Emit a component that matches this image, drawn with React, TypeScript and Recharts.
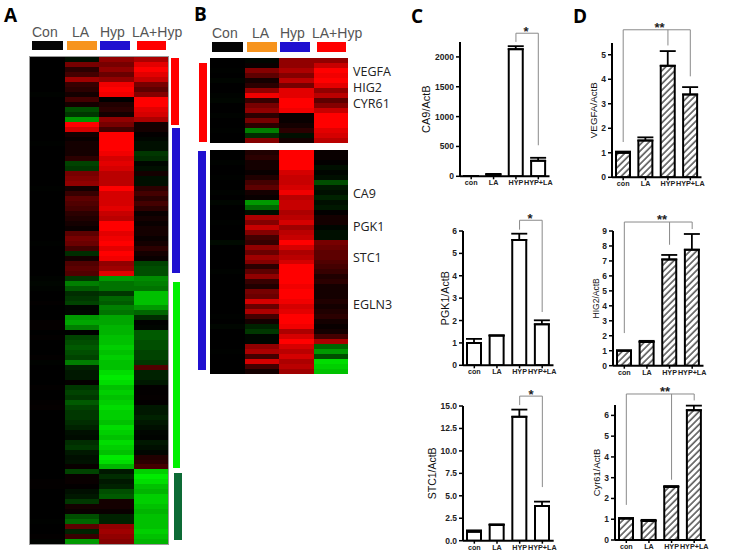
import React from "react";
import { BarChart, Bar, XAxis, YAxis, Cell, ErrorBar, ReferenceLine } from "recharts";

// ---------- heatmap values (log-ratio style: negative = green, positive = red) ----------
const aCon = [0,0,0,0,0,0,0,-.03,0,0,0,0,0,0,0,0,0,-.02,0,0,0,0,0,0,0,0,-.02,0,0,0,0,0,0,0,0,0,0,-.02,0,0,0,0,0,0,-.03,-.05,-.03,0,0,.02,0,0,0,.03,.03,0,.02,0,0,0,.02,-.03,0,0,0,0,.02,0,0,.02,.03,0,0,0,0,0,0,0,0,0,0,0,0,0,0,.02,.02,0,0,0,0,0,0,-.02,0,0,.02,-.03];
const aLa = [-.1,.5,.2,.3,.65,.25,.2,.1,.3,.1,-.4,-.3,-.7,1,.85,.1,.05,.1,.1,.1,.2,-.35,-.3,.5,.55,.6,.1,.25,.4,.35,.3,.2,.15,.1,.05,.4,.5,.45,.3,-.25,.1,.35,.4,.35,-.3,-.6,-.45,-.25,-.3,-.35,-.05,-.05,-.7,-.75,-.6,0,-.35,-.4,-.45,-.4,-.35,-.6,-.2,-.15,-.15,.03,-.3,-.35,-.3,-.45,-.35,-.3,-.3,-.25,-.2,-.1,-.08,-.25,-.3,-.15,-.1,-.12,.05,-.35,.05,.05,.02,-.1,-.15,-.3,.1,.05,-.4,-.5,.4,-.2,.25,-.7];
const aHyp = [.6,.5,.6,.45,.6,.95,1,.95,0,.15,.2,.1,.6,.5,.3,1,1,1,1,.95,.85,.9,.85,.75,.75,.75,1,.85,.85,.85,.9,.8,.75,1,1,.9,.95,1,.9,1,.95,.6,.65,.9,-.7,-.55,-.55,-.3,-.5,-.45,-.6,-.55,-.75,-.75,-.8,-.8,-.85,-.85,-.9,-.85,-.9,-.85,-.85,-.95,-1,-.95,-.85,-.9,-.85,-.9,-.95,-.9,-.9,-.85,-.95,-.9,-.85,-.95,-.9,-.85,-1,-.95,-.8,-.15,-.25,-.15,-.2,-.4,-.45,.1,.1,.05,-.2,-.2,.6,.65,.6,.55];
const aLh = [.7,.9,1,.9,.8,.5,.4,.55,1,1,.9,.85,.7,.1,.1,.02,-.05,-.1,-.1,-.3,-.25,-.05,-.1,.1,-.1,-.1,.2,.3,.2,.3,.2,.05,.1,.05,.1,.1,.05,.1,.2,.1,.05,-.35,-.4,-.4,-.65,-.6,-.55,-.85,-.85,-.85,-.7,-.5,-.25,-.02,-.05,-.45,-.45,-.4,-.4,-.35,-.35,-.3,.35,-.2,-.2,-.15,.02,.02,.03,.02,-.15,-.15,-.2,-.15,-.1,-.05,-.03,-.15,-.1,-.05,.15,.2,.3,-.9,-1,-.95,-.85,-.8,-.9,-.9,-.85,-.8,-.85,-.85,-.85,-.9,-.85,-.8];

const bTopCon = [0,0,-.02,0,-.04,0,0,-.03,-.05,0,0,-.03,0,0,-.02,0,0];
const bTopLa = [-.05,.05,.55,.4,.1,.2,.6,.95,.25,.5,.6,.2,.5,.2,-.6,-.25,.55];
const bTopHyp = [.6,.6,.7,.55,.75,.5,.9,.9,1,1,.95,.05,.05,.1,.2,-.1,.1];
const bTopLh = [.6,.8,1,.95,1,.9,.6,.75,.4,.55,.8,1,1,1,.9,.85,.75];

const bLowCon = [0,0,-.03,0,0,-.02,0,0,-.03,0,-.05,0,0,0,-.02,0,0,0,-.07,0,0,0,0,0,-.03,0,0,0,0,0,0,0,0,-.02,0,-.05,0,0,0,0,-.02,0,0,0,0];
const bLowLa = [.15,.2,.1,.1,.05,.15,.3,.4,.1,.05,-.7,-.5,-.1,.7,.55,.8,.55,.3,.25,.6,.45,.65,.55,.2,.4,.6,.25,.15,.5,.45,.85,.45,.7,.3,.1,-.2,-.3,-.05,-.05,.6,.7,.3,.85,.3,.1];
const bLowHyp = [1,1,1,1,.85,.8,.8,.85,.95,.75,.8,.8,.7,.75,.85,.65,.75,.8,1,.85,.7,.75,.85,1,1,1,1,.95,1,1,.95,.85,.9,1,1,.95,.7,.85,1,.85,.75,.85,.7,.75,.65];
const bLowLh = [.05,.05,.02,-.1,-.05,-.1,-.4,-.15,-.1,-.2,-.1,-.15,.02,.1,.1,-.05,-.1,-.1,.5,.45,.4,.4,.35,.3,.25,.15,.2,.1,.1,.1,.15,.1,.15,.2,.1,.05,.1,.3,.7,-.5,-.7,-.4,-.95,-.9,-.85];

// ---------- bar chart values ----------
const groups = ["con", "LA", "HYP", "HYP+LA"];
const ca9Vals = [5, 30, 2130, 260];
const ca9Errs = [2, 10, 50, 50];
const pgk1Vals = [1.0, 1.33, 5.6, 1.83];
const pgk1Errs = [0.18, 0, 0.28, 0.18];
const stc1Vals = [1.0, 1.75, 13.8, 3.85];
const stc1Errs = [0.15, 0.08, 0.8, 0.5];
const vegfaVals = [1.0, 1.5, 4.55, 3.38];
const vegfaErrs = [0.05, 0.13, 0.6, 0.3];
const hig2Vals = [1.0, 1.58, 7.1, 7.75];
const hig2Errs = [0.03, 0.08, 0.3, 1.05];
const cyr61Vals = [1.03, 0.92, 2.55, 6.25];
const cyr61Errs = [0.03, 0.05, 0.05, 0.22];

const ca9Ticks = [0, 500, 1000, 1500, 2000];
const pgk1Ticks = [0, 1, 2, 3, 4, 5, 6];
const stc1Ticks = ["0.0", "2.5", "5.0", "7.5", "10.0", "12.5", "15.0"].map(Number);
const vegfaTicks = [0, 1, 2, 3, 4, 5];
const hig2Ticks = [0, 1, 2, 3, 4, 5, 6, 7, 8, 9];
const cyr61Ticks = [0, 1, 2, 3, 4, 5, 6];

const AXIS_W = 50;
const TOP_PAD = 30;
const BOTTOM_PAD = 24;
const SANS = "'Liberation Sans', Arial, sans-serif";

function heatColor(v: number) {
  const a = Math.min(1, Math.abs(v));
  return v >= 0 ? `rgb(${Math.round(Math.pow(a, 1.1) * 255)},0,0)` : `rgb(0,${Math.round(Math.pow(a, 1.2) * 235)},0)`;
}

function Heatmap({ cols, left, top, width, height, edge }: any) {
  const data = cols[0].map((_: number, i: number) => ({
    row: i, u0: 1, u1: 1, u2: 1, u3: 1,
  }));
  return (
    <div style={{ position: "absolute", left, top, width, height, background: "#000", filter: "blur(0.45px)", outline: edge ? "1px solid #9a9a9a" : undefined }}>
      <BarChart layout="vertical" width={width} height={height} data={data} margin={{ top: 0, right: 0, bottom: 0, left: 0 }} barCategoryGap={0} barGap={0}>
        <XAxis type="number" domain={[0, 4]} hide />
        <YAxis type="category" dataKey="row" hide />
        {cols.map((col: number[], c: number) => (
          <Bar key={c} dataKey={`u${c}`} stackId="h" isAnimationActive={false} shapeRendering="crispEdges">
            {col.map((v, i) => <Cell key={i} fill={heatColor(v)} />)}
          </Bar>
        ))}
      </BarChart>
    </div>
  );
}

function Assay({ name, vals, errs, ticks, max, axisX, yTop, y0, plotW, labelX, labelSize, hatched, brackets, tickFormatter }: any) {
  const plotH = y0 - yTop;
  const data = groups.map((g, i) => ({ g, v: vals[i], e: [0, errs[i]] }));
  const pid = `hatch-${name.replace("/", "-")}`;
  const seg = (x1: string, y1: number, x2: string, y2: number, k: string) => (
    <ReferenceLine key={k} ifOverflow="visible" stroke="#8a8a8a" strokeWidth={1}
      segment={[{ x: x1, y: y1 }, { x: x2, y: y2 }]} />
  );
  return (
    <div style={{ position: "absolute", left: axisX - AXIS_W, top: yTop - TOP_PAD }}>
      <BarChart width={AXIS_W + plotW + 6} height={TOP_PAD + plotH + BOTTOM_PAD} data={data}
        margin={{ top: TOP_PAD, right: 6, bottom: 0, left: 0 }} barSize={14}>
        <defs>
          <pattern id={pid} width={4.6} height={4.6} patternUnits="userSpaceOnUse" patternTransform="rotate(45)">
            <rect width={4.6} height={4.6} fill="#fff" />
            <line x1={1} y1={0} x2={1} y2={4.6} stroke="#2a2a2a" strokeWidth={1.25} />
          </pattern>
        </defs>
        <XAxis dataKey="g" height={BOTTOM_PAD} interval={0} tickSize={3} tickMargin={1}
          axisLine={{ stroke: "#000", strokeWidth: 2 }} tickLine={{ stroke: "#000", strokeWidth: 1.5 }}
          tick={{ fontSize: 7.2, fontWeight: 700, fill: "#222", fontFamily: SANS }} />
        <YAxis width={AXIS_W} domain={[0, max]} ticks={ticks} interval={0} tickSize={4} tickMargin={2} allowDataOverflow
          tickFormatter={tickFormatter}
          axisLine={{ stroke: "#000", strokeWidth: 2 }} tickLine={{ stroke: "#000", strokeWidth: 1.5 }}
          tick={{ fontSize: 8.5, fontWeight: 700, fill: "#222", fontFamily: SANS }}
          label={{ value: name, angle: -90, position: "center", dx: labelX - axisX + AXIS_W / 2, style: { fontSize: labelSize, fill: "#111", fontFamily: SANS, textAnchor: "middle" } }} />
        <Bar dataKey="v" isAnimationActive={false} fill={hatched ? `url(#${pid})` : "#fff"} stroke="#000" strokeWidth={2}>
          <ErrorBar dataKey="e" direction="y" width={8} stroke="#000" strokeWidth={1.8} isAnimationActive={false} />
        </Bar>
        {brackets.map((b: any, i: number) => seg(b[0], b[1], b[2], b[3], `b${i}`))}
      </BarChart>
    </div>
  );
}

function Txt({ x, y, size, color, weight, family, children }: any) {
  return (
    <div style={{ position: "absolute", left: x, top: y, transform: "translateY(-50%)", fontSize: size, color: color || "#222", fontWeight: weight || 400, fontFamily: family || "'Open Sans', sans-serif", whiteSpace: "nowrap", lineHeight: 1 }}>
      {children}
    </div>
  );
}

function Block({ x, y, w, h, c }: any) {
  return <div style={{ position: "absolute", left: x, top: y, width: w, height: h, background: c }} />;
}

const BLACK = "#050505", ORANGE = "#f7941d", BLUE = "#2010d0", RED = "#ff0000";
const oneDecimal = (v: number) => v.toFixed(1);

export default function App() {
  return (
    <div style={{ position: "absolute", left: 0, top: 0, width: 729, height: 560, background: "#fff", overflow: "hidden" }}>
      <Txt x={4} y={15} size={19} weight={700} color="#000">A</Txt>
      <Txt x={194} y={14} size={19} weight={700} color="#000">B</Txt>
      <Txt x={411} y={16} size={19} weight={700} color="#000">C</Txt>
      <Txt x={573} y={16} size={19} weight={700} color="#000">D</Txt>

      <Txt x={32} y={32} size={14} color="#555" family={SANS}>Con</Txt>
      <Txt x={72} y={32} size={14} color="#555" family={SANS}>LA</Txt>
      <Txt x={100} y={32} size={14} color="#555" family={SANS}>Hyp</Txt>
      <Txt x={132} y={32} size={14} color="#555" family={SANS}>LA+Hyp</Txt>
      <Block x={32} y={41} w={31} h={9} c={BLACK} />
      <Block x={67} y={41} w={30} h={9} c={ORANGE} />
      <Block x={100} y={41} w={30} h={9} c={BLUE} />
      <Block x={137} y={41} w={29} h={9} c={RED} />

      <Heatmap cols={[aCon, aLa, aHyp, aLh]} left={30} top={57} width={138} height={487} edge />
      <Block x={171} y={58} w={8} h={67} c={RED} />
      <Block x={172} y={128} w={8} h={145} c={BLUE} />
      <Block x={173} y={282} w={7} h={186} c="#00f000" />
      <Block x={174} y={473} w={7.5} h={67} c="#0d6b35" />

      <Txt x={212} y={33} size={14} color="#555" family={SANS}>Con</Txt>
      <Txt x={252} y={33} size={14} color="#555" family={SANS}>LA</Txt>
      <Txt x={280} y={33} size={14} color="#555" family={SANS}>Hyp</Txt>
      <Txt x={312} y={33} size={14} color="#555" family={SANS}>LA+Hyp</Txt>
      <Block x={212} y={42} w={31} h={10} c={BLACK} />
      <Block x={247} y={42} w={30} h={10} c={ORANGE} />
      <Block x={280} y={42} w={30} h={10} c={BLUE} />
      <Block x={317} y={42} w={29} h={10} c={RED} />

      <Heatmap cols={[bTopCon, bTopLa, bTopHyp, bTopLh]} left={210} top={58} width={138} height={85} />
      <Heatmap cols={[bLowCon, bLowLa, bLowHyp, bLowLh]} left={210} top={150} width={138} height={224} />
      <Block x={199} y={63} w={8} h={79} c={RED} />
      <Block x={198} y={151} w={8} h={219} c={BLUE} />

      <Txt x={353} y={72} size={12.5}>VEGFA</Txt>
      <Txt x={353} y={88} size={12.5}>HIG2</Txt>
      <Txt x={353} y={104} size={12.5}>CYR61</Txt>
      <Txt x={353} y={194} size={12.5}>CA9</Txt>
      <Txt x={353} y={227} size={12.5}>PGK1</Txt>
      <Txt x={353} y={258} size={12.5}>STC1</Txt>
      <Txt x={353} y={305} size={12.5}>EGLN3</Txt>

      <Assay name="CA9/ActB" vals={ca9Vals} errs={ca9Errs} ticks={ca9Ticks} max={2250} axisX={459.5} yTop={41.7} y0={176} plotW={89.5} labelX={426} labelSize={11}
        brackets={[["HYP", 2251, "HYP", 2397], ["HYP", 2397, "HYP+LA", 2397], ["HYP+LA", 2397, "HYP+LA", 520]]} />
      <Assay name="PGK1/ActB" vals={pgk1Vals} errs={pgk1Errs} ticks={pgk1Ticks} max={6} axisX={462.7} yTop={230.7} y0={365} plotW={90.5} labelX={445} labelSize={10.7}
        brackets={[["HYP", 6.06, "HYP", 6.48], ["HYP", 6.48, "HYP+LA", 6.48], ["HYP+LA", 6.48, "HYP+LA", 2.38]]} />
      <Assay name="STC1/ActB" vals={stc1Vals} errs={stc1Errs} ticks={stc1Ticks} max={15} axisX={463.3} yTop={406} y0={540.7} plotW={90.7} labelX={433} labelSize={10.5} tickFormatter={oneDecimal}
        brackets={[["HYP", 15.1, "HYP", 16.1], ["HYP", 16.1, "HYP+LA", 16.1], ["HYP+LA", 16.1, "HYP+LA", 5.97]]} />
      <Assay name="VEGFA/ActB" hatched vals={vegfaVals} errs={vegfaErrs} ticks={vegfaTicks} max={5.48} axisX={611.7} yTop={42.7} y0={177} plotW={89.5} labelX={593} labelSize={9.8}
        brackets={[["con", 1.44, "con", 6.02], ["con", 6.02, "HYP+LA", 6.02], ["HYP", 6.02, "HYP", 5.38], ["HYP+LA", 6.02, "HYP+LA", 4.12]]} />
      <Assay name="HIG2/ActB" hatched vals={hig2Vals} errs={hig2Errs} ticks={hig2Ticks} max={9} axisX={613.3} yTop={231.3} y0={366} plotW={90.5} labelX={596} labelSize={8.5}
        brackets={[["con", 2.18, "con", 9.6], ["con", 9.6, "HYP+LA", 9.6], ["HYP", 9.6, "HYP", 8.08], ["HYP+LA", 9.6, "HYP+LA", 9.13]]} />
      <Assay name="Cyr61/ActB" hatched vals={cyr61Vals} errs={cyr61Errs} ticks={cyr61Ticks} max={6.5} axisX={615} yTop={405} y0={540} plotW={90.5} labelX={597} labelSize={9.4}
        brackets={[["con", 1.69, "con", 7.03], ["con", 7.03, "HYP+LA", 7.03], ["HYP", 7.03, "HYP", 2.9], ["HYP+LA", 7.03, "HYP+LA", 6.72]]} />

      <Txt x={523.5} y={31} size={13} weight={700} family={SANS}>*</Txt>
      <Txt x={527.5} y={218} size={13} weight={700} family={SANS}>*</Txt>
      <Txt x={528.5} y={394} size={13} weight={700} family={SANS}>*</Txt>
      <Txt x={654.5} y={27} size={13} weight={700} family={SANS}>**</Txt>
      <Txt x={657} y={219} size={13} weight={700} family={SANS}>**</Txt>
      <Txt x={660} y={391} size={13} weight={700} family={SANS}>**</Txt>
    </div>
  );
}
